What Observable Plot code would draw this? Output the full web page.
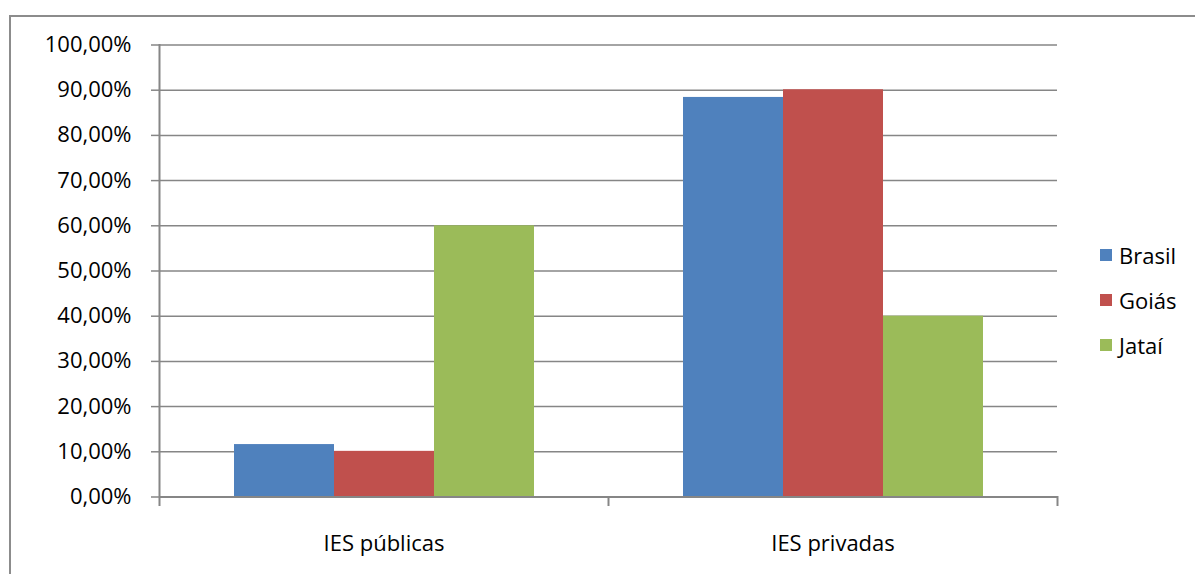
<!DOCTYPE html>
<html>
<head>
<meta charset="utf-8">
<script src="https://cdn.jsdelivr.net/npm/d3@7"></script>
<script src="https://cdn.jsdelivr.net/npm/@observablehq/plot@0.6"></script>
<style>
  html, body { margin: 0; padding: 0; background: #fff; }
  #wrap { position: relative; width: 1195px; height: 574px; overflow: hidden; font-family: "Open Sans", sans-serif; }
  #border { position: absolute; left: 9px; top: 15px; width: 1300px; height: 700px; border-top: 2px solid #8c8c8c; border-left: 2px solid #8c8c8c; pointer-events: none; }
  #legend { position: absolute; left: 1100px; top: 232px; font-size: 22px; color: #000; }
  #legend .item { display: flex; align-items: center; height: 45px; }
  #legend .sw { width: 12px; height: 12px; margin-right: 7px; }
  #chart { position: absolute; left: 0; top: 0; }
</style>
</head>
<body>
<div id="wrap">
  <div id="chart"></div>
  <div id="border"></div>
  <div id="legend"></div>
</div>
<script>
const categories = ["IES públicas", "IES privadas"];
const series = ["Brasil", "Goiás", "Jataí"];
const brasil = [11.6, 88.4];
const goias = [10.1, 90.1];
const jatai = [60.0, 40.0];
const colors = ["#4F81BD", "#C0504D", "#9BBB59"];
const yTicks = [0, 10, 20, 30, 40, 50, 60, 70, 80, 90, 100];

const seriesValues = [brasil, goias, jatai];
const data = categories.flatMap((c, i) =>
  series.map((s, j) => ({cat: c, serie: s, value: seriesValues[j][i]}))
);

const grey = "#868686";
const plot = Plot.plot({
  width: 1195,
  height: 574,
  marginLeft: 158,
  marginRight: 138,
  marginTop: 44.5,
  marginBottom: 77.5,
  style: {fontFamily: "'Open Sans', sans-serif", fontSize: "22px", background: "transparent", color: "#000"},
  fx: {domain: categories, paddingInner: 0, paddingOuter: 0, label: null},
  x: {domain: series, paddingInner: 0, paddingOuter: 0.745, axis: null},
  y: {domain: [0, 100], axis: null},
  color: {domain: series, range: colors},
  marks: [
    Plot.gridY(yTicks, {stroke: grey, strokeOpacity: 1, strokeWidth: 1.5}),
    Plot.barY(data, {fx: "cat", x: "serie", y: "value", fill: "serie"}),
    Plot.ruleY([0], {stroke: grey, strokeWidth: 2}),
    Plot.frame({anchor: "left", facetAnchor: "left", stroke: grey, strokeWidth: 2, insetBottom: -8}),
    Plot.frame({anchor: "right", stroke: grey, strokeWidth: 2, insetTop: 452, insetBottom: -8}),
    Plot.axisY(yTicks, {anchor: "left", tickSize: 8, tickPadding: 20, stroke: grey, strokeWidth: 1.5, fill: "#000", fontSize: 22,
      tickFormat: d => d.toFixed(2).replace(".", ",") + "%", label: null}),
    Plot.axisFx({anchor: "bottom", tickSize: 0, tickPadding: 38, fill: "#000", fontSize: 22, label: null})
  ]
});
document.getElementById("chart").appendChild(plot);

const legend = document.getElementById("legend");
series.forEach((s, i) => {
  const item = document.createElement("div");
  item.className = "item";
  const sw = document.createElement("div");
  sw.className = "sw";
  sw.style.background = colors[i];
  const t = document.createElement("span");
  t.textContent = s;
  item.appendChild(sw);
  item.appendChild(t);
  legend.appendChild(item);
});
</script>
</body>
</html>
